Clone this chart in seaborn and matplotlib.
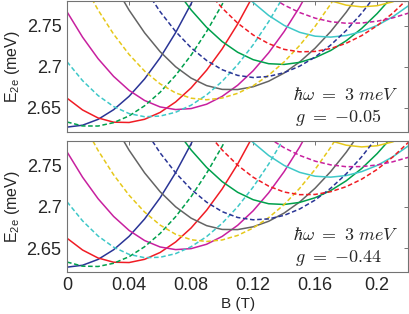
import numpy as np
import pandas as pd
import matplotlib
matplotlib.use("Agg")
import matplotlib.pyplot as plt
import seaborn as sns

nan = np.nan

## magnetic field grid (T)
B = [0.00, 0.01, 0.02, 0.03, 0.04, 0.05, 0.06, 0.07, 0.08, 0.09, 0.10,
     0.11, 0.12, 0.13, 0.14, 0.15, 0.16, 0.17, 0.18, 0.19, 0.20, 0.21, 0.22]

## solid curves (same in both panels)
blue_solid = [2.6268, 2.6291, 2.6362, 2.6479, 2.6642, 2.6853, 2.7110, 2.7415, 2.7766, 2.8163,
              nan, nan, nan, nan, nan, nan, nan, nan, nan, nan, nan, nan, nan]
red_solid = [2.6619, 2.6476, 2.6379, 2.6328, 2.6324, 2.6363, 2.6446, 2.6573, 2.6744, 2.6959,
             2.7217, 2.7519, 2.7865, nan, nan, nan, nan, nan, nan, nan, nan, nan, nan]
magenta_solid = [2.7667, 2.7360, 2.7099, 2.6884, 2.6714, 2.6591, 2.6513, 2.6481, 2.6493, 2.6546,
                 2.6641, 2.6776, 2.6952, 2.7170, 2.7428, 2.7727, 2.8068, nan, nan, nan, nan, nan, nan]
gray_solid = [nan, nan, nan, 2.8008, 2.7688, 2.7413, 2.7184, 2.7001, 2.6863, 2.6772,
              2.6726, 2.6724, 2.6758, 2.6825, 2.6925, 2.7059, 2.7227, 2.7428, 2.7662, 2.7930,
              nan, nan, nan]
green_solid = [nan, nan, nan, nan, nan, nan, nan, 2.7944, 2.7691, 2.7479,
               2.7307, 2.7177, 2.7087, 2.7038, 2.7029, 2.7054, 2.7111, 2.7198, 2.7316, 2.7466,
               2.7647, 2.7859, nan]
cyan_solid = [nan, nan, nan, nan, nan, nan, nan, nan, nan, nan,
              nan, 2.7976, 2.7782, 2.7624, 2.7503, 2.7419, 2.7372, 2.7361, 2.7380, 2.7428,
              2.7503, 2.7607, 2.7739]
yellow_solid = [nan, nan, nan, nan, nan, nan, nan, nan, nan, nan,
                nan, nan, nan, nan, nan, nan, 2.7891, 2.7803, 2.7749, 2.7728,
                2.7742, 2.7789, 2.7871]

## dashed curves, g = -0.05
green_dash_a = [2.6330, 2.6282, 2.6281, 2.6322, 2.6404, 2.6527, 2.6691, 2.6896, 2.7142, 2.7429,
                2.7757, 2.8126, nan, nan, nan, nan, nan, nan, nan, nan, nan, nan, nan]
cyan_dash_a = [2.7061, 2.6832, 2.6651, 2.6518, 2.6432, 2.6394, 2.6402, 2.6448, 2.6534, 2.6659,
               2.6823, 2.7026, 2.7267, 2.7548, 2.7868, nan, nan, nan, nan, nan, nan, nan, nan]
yellow_dash_a = [nan, 2.8029, 2.7690, 2.7397, 2.7150, 2.6948, 2.6793, 2.6683, 2.6619, 2.6600,
                 2.6621, 2.6678, 2.6770, 2.6898, 2.7060, 2.7259, 2.7492, 2.7761, 2.8066, nan,
                 nan, nan, nan]
blue_dash_a = [nan, nan, nan, nan, nan, 2.7954, 2.7670, 2.7429, 2.7231, 2.7077,
               2.6965, 2.6896, 2.6870, 2.6883, 2.6929, 2.7008, 2.7119, 2.7264, 2.7441, 2.7651,
               2.7894, nan, nan]
red_dash_a = [nan, nan, nan, nan, nan, nan, nan, nan, nan, 2.7934,
              2.7714, 2.7531, 2.7387, 2.7281, 2.7212, 2.7182, 2.7187, 2.7222, 2.7286, 2.7379,
              2.7500, 2.7651, 2.7831]
magenta_dash_a = [nan, nan, nan, nan, nan, nan, nan, nan, nan, nan,
                  nan, nan, nan, 2.7865, 2.7750, 2.7659, 2.7591, 2.7548, 2.7529, 2.7532,
                  2.7554, 2.7594, 2.7651]

## dashed curves, g = -0.44
green_dash_b = [2.6330, 2.6280, 2.6276, 2.6315, 2.6395, 2.6516, 2.6677, 2.6880, 2.7124, 2.7409,
                2.7734, 2.8101, nan, nan, nan, nan, nan, nan, nan, nan, nan, nan, nan]
cyan_dash_b = [2.7061, 2.6830, 2.6646, 2.6511, 2.6423, 2.6383, 2.6388, 2.6432, 2.6516, 2.6639,
               2.6800, 2.7001, 2.7240, 2.7519, 2.7836, nan, nan, nan, nan, nan, nan, nan, nan]
yellow_dash_b = [nan, 2.8027, 2.7685, 2.7390, 2.7141, 2.6937, 2.6779, 2.6667, 2.6601, 2.6580,
                 2.6598, 2.6653, 2.6743, 2.6869, 2.7028, 2.7225, 2.7456, 2.7723, 2.8025, nan,
                 nan, nan, nan]
blue_dash_b = [nan, nan, nan, nan, nan, 2.7943, 2.7656, 2.7413, 2.7213, 2.7057,
               2.6942, 2.6871, 2.6843, 2.6854, 2.6897, 2.6974, 2.7083, 2.7226, 2.7400, 2.7608,
               2.7849, nan, nan]
red_dash_b = [nan, nan, nan, nan, nan, nan, nan, nan, nan, 2.7914,
              2.7691, 2.7506, 2.7360, 2.7252, 2.7180, 2.7148, 2.7151, 2.7184, 2.7245, 2.7336,
              2.7455, 2.7604, 2.7781]
magenta_dash_b = [nan, nan, nan, nan, nan, nan, nan, nan, nan, nan,
                  nan, nan, nan, 2.7836, 2.7718, 2.7625, 2.7555, 2.7510, 2.7488, 2.7489,
                  2.7509, 2.7547, 2.7601]

panel_text = [[r'$\hbar\omega\ =\ 3\ meV$', r'$g\ =\ {-}0.05$'],
              [r'$\hbar\omega\ =\ 3\ meV$', r'$g\ =\ {-}0.44$']]

yticks = [2.65, 2.7, 2.75]
yticklabels = ['2.65', '2.7', '2.75']
xticks = [0, 0.04, 0.08, 0.12, 0.16, 0.2]
xticklabels = ['0', '0.04', '0.08', '0.12', '0.16', '0.2']

col = {'b': '#2a3596', 'g': '#00a04c', 'r': '#f01c24', 'c': '#3ec8c8',
       'm': '#c8209f', 'y': '#e6c81a', 'k': '#646464'}

solids = [(blue_solid, 'b'), (red_solid, 'r'), (magenta_solid, 'm'), (gray_solid, 'k'),
          (green_solid, 'g'), (cyan_solid, 'c'), (yellow_solid, 'y')]
dashed = [[(green_dash_a, 'g'), (cyan_dash_a, 'c'), (yellow_dash_a, 'y'),
           (blue_dash_a, 'b'), (red_dash_a, 'r'), (magenta_dash_a, 'm')],
          [(green_dash_b, 'g'), (cyan_dash_b, 'c'), (yellow_dash_b, 'y'),
           (blue_dash_b, 'b'), (red_dash_b, 'r'), (magenta_dash_b, 'm')]]

sns.set_style("white")
plt.rcParams['font.family'] = ['Liberation Sans', 'DejaVu Sans']
plt.rcParams['mathtext.fontset'] = 'custom'
plt.rcParams['mathtext.rm'] = 'Liberation Sans'
plt.rcParams['mathtext.it'] = 'Liberation Sans:italic'

fig = plt.figure(figsize=(4.09, 3.14), dpi=100)
ax1 = fig.add_axes([0.164, 0.580, 0.834, 0.417])
ax2 = fig.add_axes([0.164, 0.134, 0.834, 0.417])

for i, ax in enumerate([ax1, ax2]):
    for y, c in solids:
        sns.lineplot(x=B, y=y, ax=ax, color=col[c], lw=1.1)
    for y, c in dashed[i]:
        sns.lineplot(x=B, y=y, ax=ax, color=col[c], lw=1.1, linestyle=(0, (3, 1.7)))
    ax.set_xlim(0, 0.22)
    ax.set_ylim(2.621, 2.78)
    ax.set_yticks(yticks)
    ax.set_yticklabels(yticklabels, fontsize=13)
    ax.set_xticks(xticks)
    ax.tick_params(direction='in', top=True, right=True, length=3, width=0.7,
                   color='0.45', pad=4)
    for s in ax.spines.values():
        s.set_color('0.45')
        s.set_linewidth(0.8)
    ax.set_ylabel(r'E$_{\rm 2e}$ (meV)', fontsize=11.5)
    ax.yaxis.set_label_coords(-0.132, 0.5)
    ax.text(0.663, 0.244, panel_text[i][0], transform=ax.transAxes, fontsize=13,
            math_fontfamily='cm')
    ax.text(0.667, 0.079, panel_text[i][1], transform=ax.transAxes, fontsize=13,
            math_fontfamily='cm')

ax1.set_xticklabels([])
ax2.set_xticklabels(xticklabels, fontsize=13)
ax2.set_xlabel('B (T)', fontsize=11, labelpad=2)

fig.savefig('out.png', dpi=100)
